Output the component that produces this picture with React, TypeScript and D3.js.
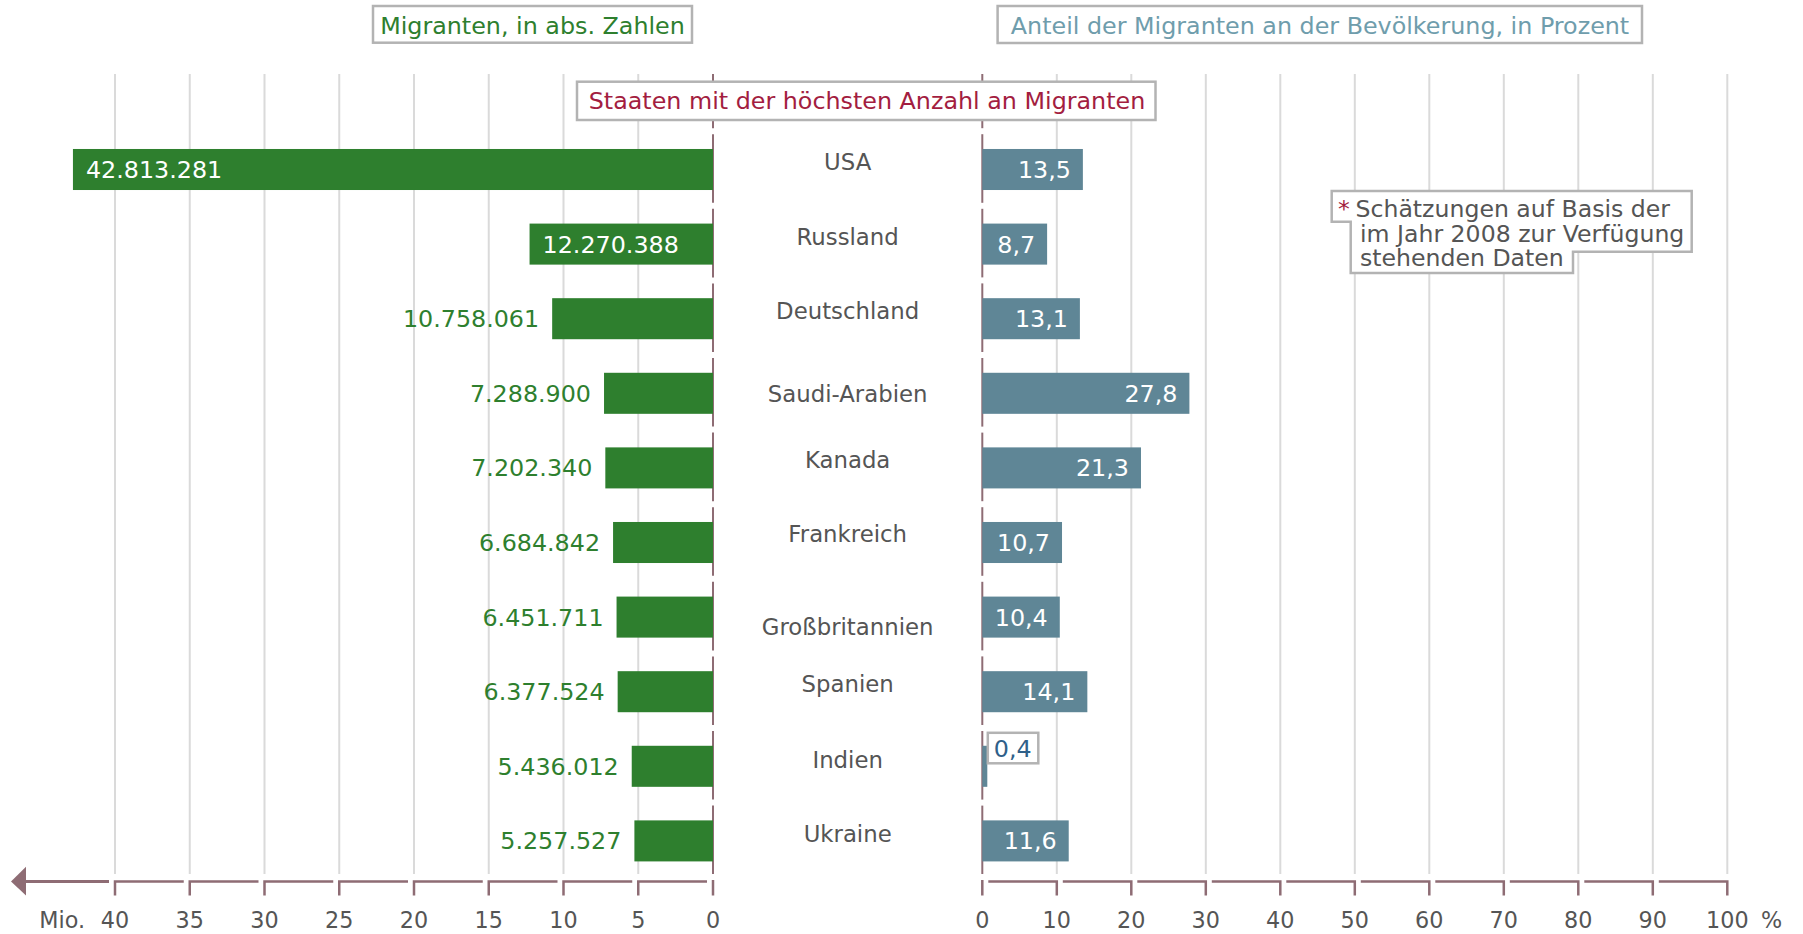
import React from "react";
import * as d3 from "d3";

const countries = ["USA", "Russland", "Deutschland", "Saudi-Arabien", "Kanada", "Frankreich", "Großbritannien", "Spanien", "Indien", "Ukraine"];
const migrants = [42813281, 12270388, 10758061, 7288900, 7202340, 6684842, 6451711, 6377524, 5436012, 5257527];
const shares = [13.5, 8.7, 13.1, 27.8, 21.3, 10.7, 10.4, 14.1, 0.4, 11.6];
const leftTicks = [0, 5, 10, 15, 20, 25, 30, 35, 40];
const rightTicks = [0, 10, 20, 30, 40, 50, 60, 70, 80, 90, 100];
const titleLeft = "Migranten, in abs. Zahlen";
const titleRight = "Anteil der Migranten an der Bevölkerung, in Prozent";
const titleCenter = "Staaten mit der höchsten Anzahl an Migranten";
const footnoteLines = ["Schätzungen auf Basis der", "im Jahr 2008 zur Verfügung", "stehenden Daten"];

// layout constants
const W = 1803, H = 934;
const labelDy = [-7.5, -7.5, -8, 0, -8, -9, 10, -7.5, -6.5, -7.5];
const FONT = "Verdana, 'DejaVu Sans', sans-serif";
const GREEN = "#2e7f2e";
const STEEL = "#5f8696";
const MAUVE = "#8e6c74";
const GRID = "#dadada";
const TEXT = "#555555";
const CRIMSON = "#a31d40";
const BOXSTROKE = "#b3b3b3";

const de = d3.formatLocale({ decimal: ",", thousands: ".", grouping: [3], currency: ["", "€"] });
const fmtInt = de.format(",d");
const fmtPct = de.format(".1f");

export default function App() {
  const xL = d3.scaleLinear().domain([0, 40]).range([713, 115]);
  const xR = d3.scaleLinear().domain([0, 100]).range([982.3, 1727.3]);
  const y = d3.scaleBand<string>().domain(countries).range([132.2, 878.2]).paddingInner(0.45).paddingOuter(0.225);
  const step = y.step();
  const bw = y.bandwidth();
  const gridTop = 74, gridBottom = 874;
  const axisY = 881.5, tickBottom = 895.5;
  const fsTitle = 23.8;
  const fsVal = 23.8;
  const fsCountry = 22.8;
  const fsNote = 23.6;
  const fsTick = 22.3;

  // center line segments
  const segs: [number, number][] = [];
  const bounds = countries.map((_, i) => 132.2 + i * step);
  segs.push([gridTop, bounds[0] - 4]);
  for (let i = 0; i < countries.length; i++) {
    const top = bounds[i] + 2;
    const bottom = i < countries.length - 1 ? bounds[i + 1] - 4 : gridBottom;
    segs.push([top, bottom]);
  }

  return (
    <svg width={W} height={H} style={{ position: "absolute", left: 0, top: 0, display: "block", background: "#fff" }} fontFamily={FONT}>
      {/* gridlines */}
      {leftTicks.filter((t) => t > 0).map((t) => (
        <line key={"gl" + t} x1={xL(t)} x2={xL(t)} y1={gridTop} y2={gridBottom} stroke={GRID} strokeWidth={2} />
      ))}
      {rightTicks.filter((t) => t > 0).map((t) => (
        <line key={"gr" + t} x1={xR(t)} x2={xR(t)} y1={gridTop} y2={gridBottom} stroke={GRID} strokeWidth={2} />
      ))}

      {/* center zero lines */}
      {segs.map(([a, b], i) => (
        <g key={"s" + i}>
          <line x1={xL(0)} x2={xL(0)} y1={a} y2={b} stroke={MAUVE} strokeWidth={2} />
          <line x1={xR(0)} x2={xR(0)} y1={a} y2={b} stroke={MAUVE} strokeWidth={2} />
        </g>
      ))}

      {/* title boxes */}
      <rect x={373} y={6} width={319} height={36.7} fill="#fff" stroke={BOXSTROKE} strokeWidth={2.5} />
      <text x={532.5} y={34} textAnchor="middle" fontSize={fsTitle} fill={GREEN}>{titleLeft}</text>
      <rect x={997.6} y={6} width={644.4} height={37} fill="#fff" stroke={BOXSTROKE} strokeWidth={2.5} />
      <text x={1320} y={34} textAnchor="middle" fontSize={fsTitle} fill="#6f9dac">{titleRight}</text>
      <rect x={577} y={81.7} width={578.5} height={38.3} fill="#fff" stroke={BOXSTROKE} strokeWidth={2.5} />
      <text x={867} y={109} textAnchor="middle" fontSize={fsTitle} fill={CRIMSON}>{titleCenter}</text>

      {/* left bars */}
      {countries.map((c, i) => {
        const v = migrants[i] / 1e6;
        const x0 = xL(v);
        const wBar = xL(0) - x0;
        const inside = wBar > 175;
        const cy = (y(c) as number) + bw / 2;
        return (
          <g key={"lb" + c}>
            <rect x={x0} y={y(c)} width={wBar} height={bw} fill={GREEN} />
            <text
              x={inside ? x0 + 13 : x0 - 13}
              y={cy}
              dy="0.36em"
              textAnchor={inside ? "start" : "end"}
              fontSize={fsVal}
              fill={inside ? "#fff" : GREEN}
            >
              {fmtInt(migrants[i])}
            </text>
          </g>
        );
      })}

      {/* right bars */}
      {countries.map((c, i) => {
        const v = shares[i];
        const x1 = xR(v);
        const wBar = x1 - xR(0);
        const inside = wBar > 30;
        const cy = (y(c) as number) + bw / 2;
        return (
          <g key={"rb" + c}>
            <rect x={xR(0)} y={y(c)} width={Math.max(wBar, 5)} height={bw} fill={STEEL} />
            {inside ? (
              <text x={x1 - 12} y={cy} dy="0.36em" textAnchor="end" fontSize={fsVal} fill="#fff">
                {fmtPct(v)}
              </text>
            ) : (
              <g>
                <rect x={xR(0) + 5.5} y={cy - 33.5} width={50.5} height={30.5} fill="#fff" stroke={BOXSTROKE} strokeWidth={2.5} />
                <text x={xR(0) + 11.5} y={cy - 18.3} dy="0.36em" fontSize={fsVal} fill="#2f6089">
                  {fmtPct(v)}
                </text>
              </g>
            )}
          </g>
        );
      })}

      {/* country labels */}
      {countries.map((c, i) => (
        <text
          key={"cl" + c}
          x={(xL(0) + xR(0)) / 2}
          y={(y(c) as number) + bw / 2 + labelDy[i]}
          dy="0.36em"
          textAnchor="middle"
          fontSize={fsCountry}
          fill={TEXT}
        >
          {c}
        </text>
      ))}

      {/* footnote */}
      <path
        d="M1331.7,191 H1691.7 V251.7 H1573 V273 H1350.7 V221.7 H1331.7 Z"
        fill="#fff"
        stroke={BOXSTROKE}
        strokeWidth={2.5}
      />
      <text x={1338} y={216.7} fontSize={fsNote} fill={CRIMSON}>*</text>
      <text x={1355.5} y={216.7} fontSize={fsNote} fill={TEXT}>{footnoteLines[0]}</text>
      <text x={1360} y={242.3} fontSize={fsNote} fill={TEXT}>{footnoteLines[1]}</text>
      <text x={1360} y={266} fontSize={fsNote} fill={TEXT}>{footnoteLines[2]}</text>

      {/* left axis */}
      <polygon points={`11,${axisY} 26,866.7 26,${tickBottom}`} fill={MAUVE} />
      <line x1={26} x2={xL(40) - 6} y1={axisY} y2={axisY} stroke={MAUVE} strokeWidth={3} />
      {leftTicks.slice(0, -1).map((t) => (
        <path
          key={"la" + t}
          d={`M${xL(t + 5)},${tickBottom} V${axisY} H${xL(t) - 6}`}
          fill="none"
          stroke={MAUVE}
          strokeWidth={2.5}
        />
      ))}
      <line x1={xL(0)} x2={xL(0)} y1={880} y2={tickBottom} stroke={MAUVE} strokeWidth={2.5} />
      {leftTicks.map((t) => (
        <text key={"lt" + t} x={xL(t)} y={928} textAnchor="middle" fontSize={fsTick} fill={TEXT}>
          {t}
        </text>
      ))}
      <text x={85} y={928} textAnchor="end" fontSize={fsTick} fill={TEXT}>Mio.</text>

      {/* right axis */}
      <line x1={xR(0)} x2={xR(0)} y1={880} y2={tickBottom} stroke={MAUVE} strokeWidth={2.5} />
      {rightTicks.slice(0, -1).map((t, i) => (
        <path
          key={"ra" + t}
          d={`M${xR(t) + 6},${axisY} H${xR(rightTicks[i + 1])} V${tickBottom}`}
          fill="none"
          stroke={MAUVE}
          strokeWidth={2.5}
        />
      ))}
      {rightTicks.map((t) => (
        <text key={"rt" + t} x={xR(t)} y={928} textAnchor="middle" fontSize={fsTick} fill={TEXT}>
          {t}
        </text>
      ))}
      <text x={1761} y={928} textAnchor="start" fontSize={fsTick} fill={TEXT}>%</text>
    </svg>
  );
}
